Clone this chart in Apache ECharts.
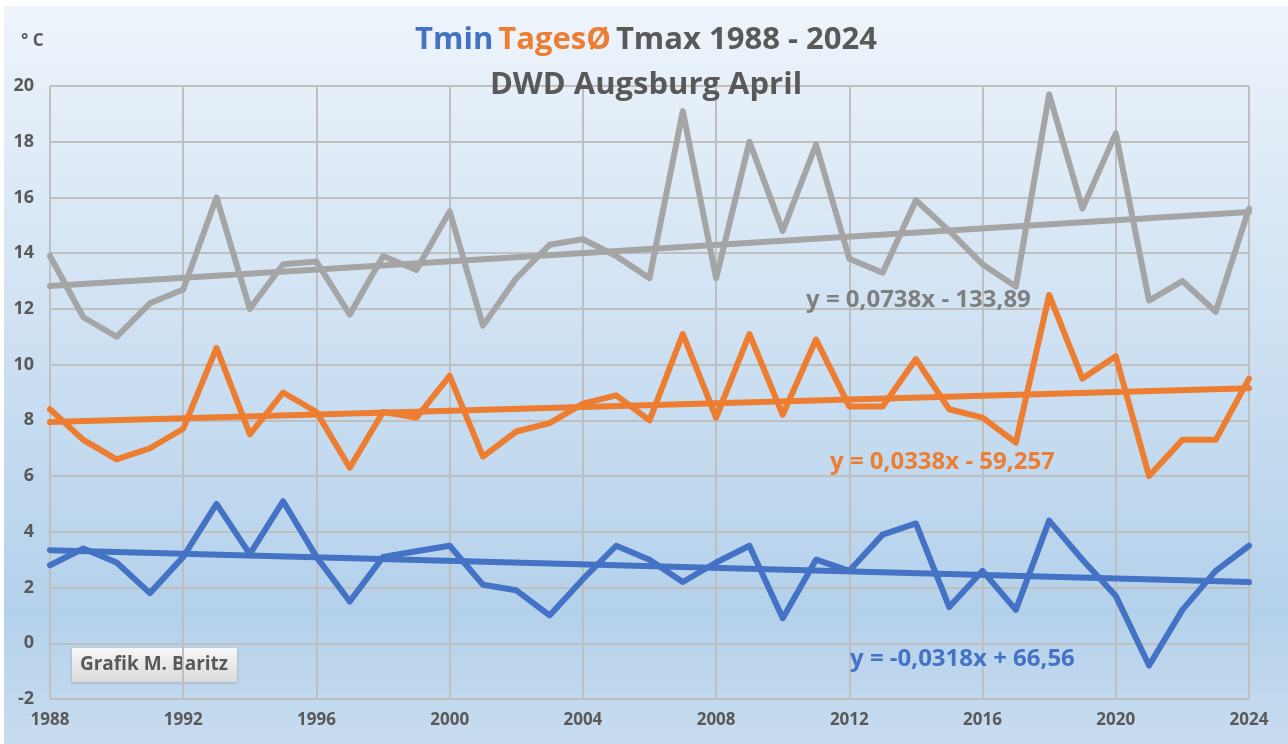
<!DOCTYPE html>
<html>
<head>
<meta charset="utf-8">
<script src="https://cdn.jsdelivr.net/npm/echarts@6/dist/echarts.min.js"></script>
<style>
  body { margin: 0; background: #fff; }
  #main { position: absolute; left: 4px; top: 6px; width: 1284px; height: 738px; }
</style>
</head>
<body>
<div id="main"></div>
<script>
// April values DWD Augsburg
var years = [1988, 1989, 1990, 1991, 1992, 1993, 1994, 1995, 1996, 1997, 1998, 1999,
  2000, 2001, 2002, 2003, 2004, 2005, 2006, 2007, 2008, 2009, 2010, 2011,
  2012, 2013, 2014, 2015, 2016, 2017, 2018, 2019, 2020, 2021, 2022, 2023, 2024];

var tmax = [13.9, 11.7, 11.0, 12.2, 12.7, 16.0, 12.0, 13.6, 13.7, 11.8, 13.9, 13.4,
  15.5, 11.4, 13.1, 14.3, 14.5, 13.9, 13.1, 19.1, 13.1, 18.0, 14.8, 17.9,
  13.8, 13.3, 15.9, 14.8, 13.6, 12.8, 19.7, 15.6, 18.3, 12.3, 13.0, 11.9, 15.6];

var tavg = [8.4, 7.3, 6.6, 7.0, 7.7, 10.6, 7.5, 9.0, 8.3, 6.3, 8.3, 8.1,
  9.6, 6.7, 7.6, 7.9, 8.6, 8.9, 8.0, 11.1, 8.1, 11.1, 8.2, 10.9,
  8.5, 8.5, 10.2, 8.4, 8.1, 7.2, 12.5, 9.5, 10.3, 6.0, 7.3, 7.3, 9.5];

var tmin = [2.8, 3.4, 2.9, 1.8, 3.1, 5.0, 3.2, 5.1, 3.1, 1.5, 3.1, 3.3,
  3.5, 2.1, 1.9, 1.0, 2.3, 3.5, 3.0, 2.2, 2.9, 3.5, 0.9, 3.0,
  2.6, 3.9, 4.3, 1.3, 2.6, 1.2, 4.4, 3.0, 1.7, -0.8, 1.2, 2.6, 3.5];

// linear trends as printed on the chart: [slope, intercept]
var trendMax = [0.0738, -133.89];
var trendAvg = [0.0338, -59.257];
var trendMin = [-0.0318, 66.56];

var yTicks = { min: -2, max: 20, step: 2 };
var xTicks = { min: 1988, max: 2024, step: 4 };

var cBlue = '#4472c4', cOrange = '#ed7d31', cGray = '#a5a5a5', cText = '#595959';
var font = 'Open Sans';

function pairs(vals) {
  return years.map(function (y, i) { return [y, vals[i]]; });
}
function trend(t) {
  var a = years[0], b = years[years.length - 1];
  return [[a, t[0] * a + t[1]], [b, t[0] * b + t[1]]];
}
function lineSeries(name, data, color, width) {
  return {
    name: name, type: 'line', data: data, symbol: 'none',
    lineStyle: { color: color, width: width, cap: 'round', join: 'round' },
    animation: false
  };
}
function label(txt, x, y, color, size) {
  return { type: 'text', left: x, top: y, z: 100,
    style: { text: txt, fill: color, fontSize: size, fontWeight: 'bold', fontFamily: font } };
}

var chart = echarts.init(document.getElementById('main'));
chart.setOption({
  backgroundColor: {
    type: 'linear', x: 0, y: 0, x2: 0, y2: 1,
    colorStops: [
      { offset: 0, color: '#eef4fb' },
      { offset: 0.82, color: '#b4d1eb' },
      { offset: 1, color: '#c8dcef' }
    ]
  },
  title: {
    left: 'center', top: 7,
    text: '{b|Tmin} {o|TagesØ} {g|Tmax 1988 - 2024}\n{g|DWD Augsburg April}',
    textStyle: {
      rich: {
        b: { color: cBlue, fontSize: 31, fontWeight: 'bold', fontFamily: font, lineHeight: 45 },
        o: { color: cOrange, fontSize: 31, fontWeight: 'bold', fontFamily: font, lineHeight: 45 },
        g: { color: cText, fontSize: 31, fontWeight: 'bold', fontFamily: font, lineHeight: 45 }
      }
    }
  },
  grid: { left: 46, top: 80, right: 39, bottom: 45 },
  xAxis: {
    type: 'value', min: xTicks.min, max: xTicks.max, interval: xTicks.step,
    axisLine: { show: false }, axisTick: { show: false },
    axisLabel: { color: cText, fontSize: 17, fontWeight: 'bold', fontFamily: font, margin: 13,
      formatter: function (v) { return String(v); } },
    splitLine: { show: true, lineStyle: { color: '#bfbfbf', width: 2 } }
  },
  yAxis: {
    type: 'value', min: yTicks.min, max: yTicks.max, interval: yTicks.step,
    axisLine: { show: false }, axisTick: { show: false },
    axisLabel: { color: cText, fontSize: 18, fontWeight: 'bold', fontFamily: font, margin: 16 },
    splitLine: { show: true, lineStyle: { color: '#bfbfbf', width: 2 } }
  },
  series: [
    lineSeries('Tmax', pairs(tmax), cGray, 6),
    lineSeries('TagesØ', pairs(tavg), cOrange, 6),
    lineSeries('Tmin', pairs(tmin), cBlue, 6),
    lineSeries('Trend Tmax', trend(trendMax), cGray, 6),
    lineSeries('Trend TagesØ', trend(trendAvg), cOrange, 6),
    lineSeries('Trend Tmin', trend(trendMin), cBlue, 6)
  ],
  graphic: [
    label('° C', 17, 27, cText, 17),
    label('y = 0,0738x - 133,89', 802, 282, '#7f7f7f', 24),
    label('y = 0,0338x - 59,257', 826, 444, cOrange, 24),
    label('y = -0,0318x + 66,56', 846, 641, cBlue, 24),
    { type: 'group', left: 68, top: 642, z: 100, children: [
      { type: 'rect', shape: { x: 0, y: 0, width: 165, height: 34 },
        style: {
          fill: { type: 'linear', x: 0, y: 0, x2: 0, y2: 1,
            colorStops: [{ offset: 0, color: '#f7f7f7' }, { offset: 1, color: '#dadada' }] },
          shadowBlur: 3, shadowColor: 'rgba(0,0,0,0.2)', shadowOffsetY: 1
        } },
      { type: 'text', x: 82, y: 17,
        style: { text: 'Grafik M. Baritz', fill: cText, fontSize: 19, fontWeight: 'bold',
          fontFamily: font, align: 'center', verticalAlign: 'middle' } }
    ] }
  ]
});
</script>
</body>
</html>
